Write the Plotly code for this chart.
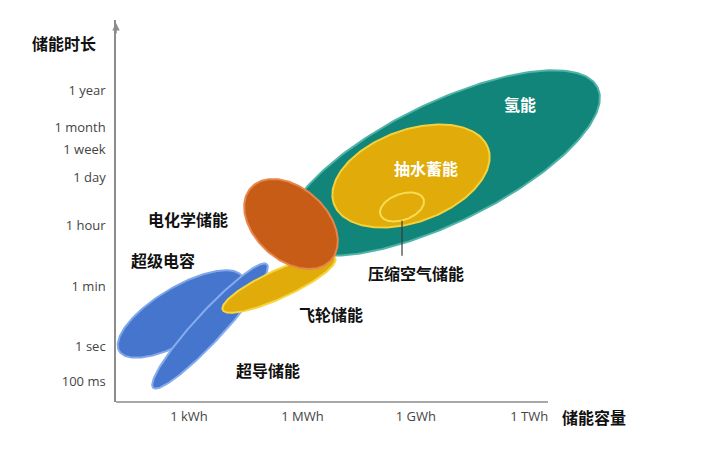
import numpy as np
import plotly.graph_objects as go

# ---------------- data ----------------
capacity_labels = ["1 kWh", "1 MWh", "1 GWh", "1 TWh"]
capacity_wh = [1e3, 1e6, 1e9, 1e12]

duration_labels = ["1 year", "1 month", "1 week", "1 day", "1 hour", "1 min", "1 sec", "100 ms"]
duration_s = [31536000, 2592000, 604800, 86400, 3600, 60, 1, 0.1]

# technology regions (log10 Wh, log10 s), semi-axes in decades, tilt in degrees
tech_names = ["氢能", "抽水蓄能", "压缩空气储能", "超级电容", "超导储能", "飞轮储能", "电化学储能"]
center_energy_log = [9.72, 8.873, 8.635, 2.788, 3.556, 5.381, 5.698]
center_duration_log = [5.372, 4.993, 4.087, 0.961, 0.611, 1.838, 3.590]
major_semi = [4.55, 2.169, 0.608, 1.905, 2.222, 1.640, 1.429]
minor_semi = [1.587, 1.217, 0.344, 0.714, 0.384, 0.370, 0.952]
tilt_deg = [26, 20, 20, 31, 47.4, 24.7, -42]
fill_colors = ["#11857a", "#e1ac0a", "#e1ac0a", "#4675cd", "#4675cd", "#e1ac0a", "#c75c16"]
edge_colors = ["#4fb3a7", "#f4d23c", "#f7dc55", "#7ea6e8", "#86adeb", "#f6d640", "#e5864a"]

# label positions (log10 Wh, log10 s)
label_names = ["电化学储能", "超级电容", "飞轮储能", "超导储能", "压缩空气储能", "氢能", "抽水蓄能"]
label_x = [2.974, 2.312, 6.757, 5.090, 9.005, 11.757, 9.270]
label_y = [3.737, 2.539, 0.961, -0.675, 2.159, 7.096, 5.226]
label_colors = ["#111111", "#111111", "#111111", "#111111", "#111111", "#ffffff", "#ffffff"]

# ---------------- layout constants ----------------
W, H = 719, 453
PAGE = 8  # body margin of the html page
ML, MT = 116 - PAGE, 20 - PAGE
MR, MB = W - (640 - PAGE), H - (402 - PAGE)
x_range = [1.069, 14.93]
y_range = [-1.61, 9.55]
PW, PH = W - ML - MR, H - MT - MB
kx = PW / (x_range[1] - x_range[0])
ky = PH / (y_range[1] - y_range[0])


def px_to_paper(px, py):
    return (px - PAGE - ML) / PW, (H - MB - (py - PAGE)) / PH


CJK = "Noto Sans CJK SC"

fig = go.Figure()

t = np.linspace(0, 2 * np.pi, 240)
for i in range(len(tech_names)):
    th = np.deg2rad(tilt_deg[i])
    u = major_semi[i] * np.cos(t)
    w = minor_semi[i] * np.sin(t)
    xd = center_energy_log[i] + (u * np.cos(th) - w * np.sin(th))
    yd = center_duration_log[i] + (u * np.sin(th) + w * np.cos(th)) * kx / ky
    fig.add_trace(go.Scatter(
        x=xd, y=yd, mode="lines", fill="toself",
        fillcolor=fill_colors[i],
        line=dict(color=edge_colors[i], width=2),
        hoverinfo="skip", showlegend=False, name=tech_names[i],
    ))

# leader line for 压缩空气储能
cx_caes = center_energy_log[2]
fig.add_trace(go.Scatter(
    x=[cx_caes, cx_caes],
    y=[center_duration_log[2] - minor_semi[2] * kx / ky * 1.05, label_y[4] + 0.5],
    mode="lines", line=dict(color="#3a3a3a", width=1.2),
    hoverinfo="skip", showlegend=False,
))

for name, lx, ly, lc in zip(label_names, label_x, label_y, label_colors):
    fig.add_annotation(x=lx, y=ly, text="<b>" + name + "</b>", showarrow=False,
                       xanchor="center", yanchor="middle",
                       font=dict(family=CJK, size=16, color=lc))

# axis titles
ax_x, ax_y = px_to_paper(64, 43)
fig.add_annotation(xref="paper", yref="paper", x=ax_x, y=ax_y, text="<b>储能时长</b>",
                   xanchor="center", yanchor="middle",
                   showarrow=False, font=dict(family=CJK, size=16, color="#111111"))
bx_x, bx_y = px_to_paper(594, 417)
fig.add_annotation(xref="paper", yref="paper", x=bx_x, y=bx_y, text="<b>储能容量</b>",
                   xanchor="center", yanchor="middle",
                   showarrow=False, font=dict(family=CJK, size=16, color="#111111"))

# x axis line and y arrow head
ex, _ = px_to_paper(548, 402)
fig.add_shape(type="line", xref="paper", yref="paper", x0=0, x1=ex,
              y0=0, y1=0, line=dict(color="#8c8c8c", width=1.5))
_, ty = px_to_paper(116, 23)
fig.add_annotation(xref="paper", yref="paper", x=0, y=ty, ax=0, ay=12,
                   showarrow=True, arrowhead=2, arrowsize=1, arrowwidth=1.5,
                   arrowcolor="#8c8c8c", text="")

fig.update_layout(
    width=W, height=H,
    margin=dict(l=ML, r=MR, t=MT, b=MB),
    paper_bgcolor="white", plot_bgcolor="white",
    xaxis=dict(range=x_range, showgrid=False, zeroline=False, showline=False,
               tickvals=list(np.log10(capacity_wh)), ticktext=capacity_labels,
               ticks="", ticklabelstandoff=5,
               tickfont=dict(family="Open Sans", size=13, color="#444444")),
    yaxis=dict(range=y_range, showgrid=False, zeroline=False, showline=True,
               linecolor="#8c8c8c", linewidth=1.5,
               tickvals=list(np.log10(duration_s)), ticktext=duration_labels,
               ticks="", ticklabelstandoff=6,
               tickfont=dict(family="Open Sans", size=13, color="#444444")),
)

fig.write_html("out.html")
